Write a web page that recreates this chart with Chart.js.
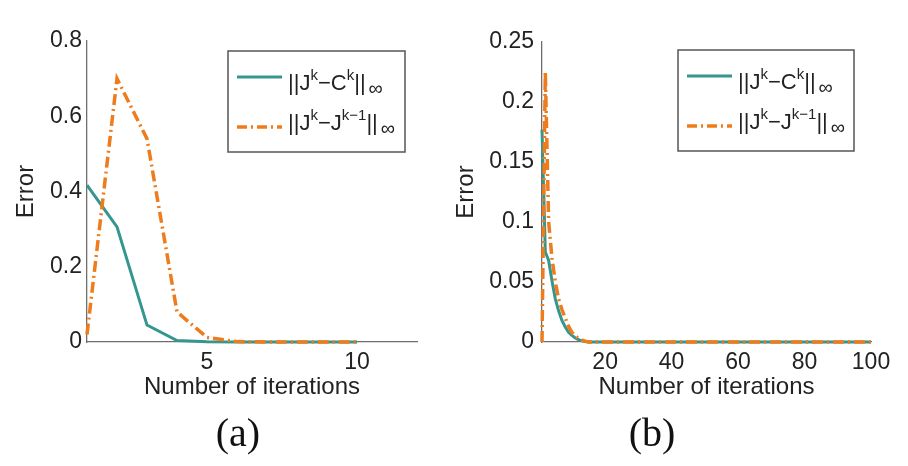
<!DOCTYPE html>
<html><head><meta charset="utf-8">
<script src="https://cdn.jsdelivr.net/npm/chart.js@4/dist/chart.umd.min.js"></script>
<style>
html,body{margin:0;padding:0;background:#fff;width:908px;height:466px;overflow:hidden}
.w{position:absolute;top:0;width:454px;height:466px}
.cap{position:absolute;top:410px;width:120px;margin-left:-60px;text-align:center;
  font-family:'Liberation Serif','Times New Roman',serif;font-size:40px;line-height:46px;color:#111}
</style></head><body>
<div class="w" style="left:0"><canvas id="ca" width="454" height="466"></canvas></div>
<div class="w" style="left:454px"><canvas id="cb" width="454" height="466"></canvas></div>
<div class="cap" style="left:238px">(a)</div>
<div class="cap" style="left:652px">(b)</div>
<script>
// ---- data (a) ----
const iterA = [1,2,3,4,5,6,7,8,9,10];
const errJC_A = [0.417,0.306,0.045,0.004,0.0005,0,0,0,0,0];
const errJJ_A = [0.02,0.70,0.54,0.08,0.012,0.001,0,0,0,0];
const yTicksA = [0,0.2,0.4,0.6,0.8];
const yLabelsA = ['0','0.2','0.4','0.6','0.8'];
const xTicksA = [5,10];
const xLabelsA = ['5','10'];

// ---- data (b) ----
const iterB = [1,2,3,4,5,6,7,8,9,10,11,12,13,14,15,16,17,18,19,20,
  21,22,23,24,25,26,27,28,29,30,31,32,33,34,35,36,37,38,39,40,
  41,42,43,44,45,46,47,48,49,50,51,52,53,54,55,56,57,58,59,60,
  61,62,63,64,65,66,67,68,69,70,71,72,73,74,75,76,77,78,79,80,
  81,82,83,84,85,86,87,88,89,90,91,92,93,94,95,96,97,98,99,100];
const errJC_B = [0.177,0.075,0.068,0.051,0.036,0.026,0.018,0.0125,0.008,0.0055,
  0.0033,0.002,0.001,0.0005,0,0,0,0,0,0,
  0,0,0,0,0,0,0,0,0,0, 0,0,0,0,0,0,0,0,0,0,
  0,0,0,0,0,0,0,0,0,0, 0,0,0,0,0,0,0,0,0,0,
  0,0,0,0,0,0,0,0,0,0, 0,0,0,0,0,0,0,0,0,0,
  0,0,0,0,0,0,0,0,0,0, 0,0,0,0,0,0,0,0,0,0];
const errJJ_B = [0.0,0.225,0.10,0.07,0.05,0.036,0.027,0.02,0.013,0.008,
  0.005,0.003,0.0015,0.0007,0,0,0,0,0,0,
  0,0,0,0,0,0,0,0,0,0, 0,0,0,0,0,0,0,0,0,0,
  0,0,0,0,0,0,0,0,0,0, 0,0,0,0,0,0,0,0,0,0,
  0,0,0,0,0,0,0,0,0,0, 0,0,0,0,0,0,0,0,0,0,
  0,0,0,0,0,0,0,0,0,0, 0,0,0,0,0,0,0,0,0,0];
const yTicksB = [0,0.05,0.1,0.15,0.2,0.25];
const yLabelsB = ['0','0.05','0.1','0.15','0.2','0.25'];
const xTicksB = [20,40,60,80,100];
const xLabelsB = ['20','40','60','80','100'];

const TEAL = '#35958f';
const ORANGE = '#ee7c1c';
const AXIS = '#6e6e6e';
const TXT = '#222';
const SANS = "'Liberation Sans', Arial, Helvetica, sans-serif";

const legendRows = [
  {color: TEAL, dash: [], segs: [['||J',22,0],['k',15,-10],['\u2212C',22,0],['k',15,-10],['||',22,0],['\u221E',20,5,3]]},
  {color: ORANGE, dash: [10,4,2,4], segs: [['||J',22,0],['k',15,-10],['\u2212J',22,0],['k\u22121',15,-10],['||',22,0],['\u221E',20,5,3]]}
];

const mathLegend = {
  id: 'mathLegend',
  afterDatasetsDraw(chart, args, opts) {
    const ctx = chart.ctx, ca = chart.chartArea;
    const x = ca.left + opts.dx, y = ca.top + opts.dy, w = opts.w, h = opts.h;
    ctx.save();
    ctx.fillStyle = '#fff';
    ctx.fillRect(x, y, w, h);
    ctx.strokeStyle = '#555';
    ctx.lineWidth = 1.5;
    ctx.strokeRect(x, y, w, h);
    const lineY = [26, 76], baseY = [39, 79];
    legendRows.forEach((r, i) => {
      ctx.beginPath();
      ctx.strokeStyle = r.color;
      ctx.lineWidth = i === 0 ? 3 : 3.5;
      ctx.setLineDash(r.dash);
      ctx.moveTo(x + 9, y + lineY[i]);
      ctx.lineTo(x + 54, y + lineY[i]);
      ctx.stroke();
      ctx.setLineDash([]);
      let tx = x + 60;
      ctx.fillStyle = TXT;
      ctx.textBaseline = 'alphabetic';
      ctx.textAlign = 'left';
      r.segs.forEach(s => {
        const [t, size, dy, gap] = s;
        tx += gap || 0;
        ctx.font = size + 'px ' + SANS;
        ctx.fillText(t, tx, y + baseY[i] + dy);
        tx += ctx.measureText(t).width;
      });
    });
    ctx.restore();
  }
};

function makeChart(id, xs, sJC, sJJ, o) {
  const pts = ys => xs.map((x, i) => ({x: x, y: ys[i]}));
  return new Chart(document.getElementById(id), {
    type: 'line',
    data: {datasets: [
      {label: '||J^k\u2212J^(k\u22121)||\u221E', data: pts(sJJ), borderColor: ORANGE, borderWidth: 3.5,
       borderDash: [11,4,2,4], pointRadius: 0, tension: 0, order: 0, clip: false},
      {label: '||J^k\u2212C^k||\u221E', data: pts(sJC), borderColor: TEAL, borderWidth: 3,
       pointRadius: 0, tension: 0, order: 1, clip: false}
    ]},
    options: {
      responsive: false, animation: false, devicePixelRatio: 1,
      layout: {padding: {left: 0, right: 37, top: o.top, bottom: 62}},
      plugins: {
        legend: {display: false}, tooltip: {enabled: false}, title: {display: false},
        mathLegend: o.legend
      },
      scales: {
        x: {type: 'linear', min: o.xmin, max: o.xmax,
          grid: {display: false, drawTicks: false},
          border: {display: true, color: AXIS, width: 1.3},
          ticks: {color: TXT, font: {family: SANS, size: 23}, padding: 7, autoSkip: false, maxRotation: 0,
            callback: v => o.xLabels[o.xTicks.indexOf(v)]},
          afterBuildTicks: s => { s.ticks = o.xTicks.map(v => ({value: v})); },
          afterFit: s => { s.height = 62; },
          title: {display: true, text: 'Number of iterations', color: TXT,
            font: {family: SANS, size: 24, lineHeight: 1}, padding: {top: 0, bottom: 5}}
        },
        y: {type: 'linear', min: 0, max: o.ymax,
          grid: {display: false, drawTicks: false},
          border: {display: true, color: AXIS, width: 1.3},
          ticks: {color: TXT, font: {family: SANS, size: 23}, padding: o.ypad, autoSkip: false,
            callback: v => o.yLabels[o.yTicks.indexOf(v)]},
          afterBuildTicks: s => { s.ticks = o.yTicks.map(v => ({value: v})); },
          afterFit: s => { s.width = o.yw; },
          title: {display: true, text: 'Error', color: TXT,
            font: {family: SANS, size: 24, lineHeight: 1}, padding: {top: o.ytp, bottom: 0}}
        }
      }
    },
    plugins: [mathLegend]
  });
}

makeChart('ca', iterA, errJC_A, errJJ_A, {
  xmin: 1, xmax: 12, ymax: 0.8, xTicks: xTicksA, xLabels: xLabelsA, yTicks: yTicksA, yLabels: yLabelsA,
  top: 41, yw: 87, ypad: 5, ytp: 14, legend: {dx: 141, dy: 10, w: 177, h: 101}
});
makeChart('cb', iterB, errJC_B, errJJ_B, {
  xmin: 1, xmax: 100, ymax: 0.25, xTicks: xTicksB, xLabels: xLabelsB, yTicks: yTicksB, yLabels: yLabelsB,
  top: 42, yw: 88, ypad: 8, ytp: 0, legend: {dx: 136, dy: 8, w: 176, h: 101}
});
</script>
</body></html>
